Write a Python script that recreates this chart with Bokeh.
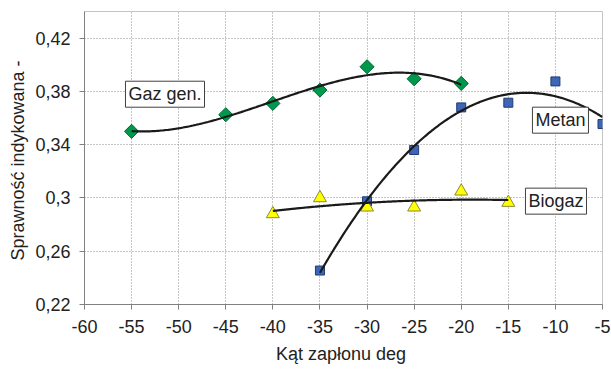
import numpy as np
from bokeh.plotting import figure
from bokeh.models import Label, FixedTicker
from bokeh.embed import file_html
from bokeh.resources import INLINE

# ---- data ----
gaz_x = [-55, -45, -40, -35, -30, -25, -20]
gaz_y = [0.350, 0.3625, 0.371, 0.381, 0.3985, 0.3895, 0.386]

metan_x = [-35, -30, -25, -20, -15, -10, -5]
metan_y = [0.2455, 0.2975, 0.336, 0.368, 0.3715, 0.3875, 0.3555]

biogaz_x = [-40, -35, -30, -25, -20, -15]
biogaz_y = [0.288, 0.300, 0.293, 0.293, 0.305, 0.2965]

x_ticks = [-60, -55, -50, -45, -40, -35, -30, -25, -20, -15, -10, -5]
x_tick_labels = ["-60", "-55", "-50", "-45", "-40", "-35", "-30", "-25", "-20", "-15", "-10", "-5"]
y_ticks = [0.22, 0.26, 0.30, 0.34, 0.38, 0.42]
y_tick_labels = ["0,22", "0,26", "0,3", "0,34", "0,38", "0,42"]

series_names = ["Gaz gen.", "Metan", "Biogaz"]

FONT = "Liberation Sans"

p = figure(width=611, height=370, x_range=(-60, -5), y_range=(0.22, 0.44),
           output_backend="svg", toolbar_location=None,
           min_border_left=84, min_border_right=9, min_border_top=11, min_border_bottom=66)
p.background_fill_color = "white"
p.border_fill_color = "white"
p.outline_line_color = "#c4c4c4"

p.xaxis.ticker = FixedTicker(ticks=x_ticks)
p.yaxis.ticker = FixedTicker(ticks=y_ticks)
p.xaxis.major_label_overrides = {t: l for t, l in zip(x_ticks, x_tick_labels)}
p.yaxis.major_label_overrides = {t: l for t, l in zip(y_ticks, y_tick_labels)}

for ax in (p.xaxis[0], p.yaxis[0]):
    ax.axis_line_color = "#808080"
    ax.major_tick_line_color = "#808080"
    ax.major_tick_in = 0
    ax.major_tick_out = 5
    ax.minor_tick_line_color = None
    ax.major_label_text_font = FONT
    ax.major_label_text_font_size = "18px"
    ax.major_label_text_color = "#222222"
    ax.axis_label_text_font = FONT
    ax.axis_label_text_font_size = "18px"
    ax.axis_label_text_font_style = "normal"
    ax.axis_label_text_color = "#222222"

p.xaxis.axis_label = "Kąt zapłonu  deg"
p.yaxis.axis_label = "Sprawność indykowana  -"
p.xaxis.major_label_standoff = 10
p.xaxis.axis_label_standoff = 8
p.yaxis.major_label_standoff = 9
p.yaxis.axis_label_standoff = 4

p.xgrid.ticker = FixedTicker(ticks=x_ticks)
p.ygrid.ticker = FixedTicker(ticks=y_ticks)
for g in (p.xgrid[0], p.ygrid[0]):
    g.grid_line_color = "#8c8c8c"
    g.grid_line_dash = "1 2"
    g.grid_line_width = 1

# markers
p.scatter(gaz_x, gaz_y, marker="square", angle=np.pi / 4, size=10,
          fill_color="#00994c", line_color="#006633", line_width=1)
p.scatter(metan_x, metan_y, marker="square", size=9,
          fill_color="#3d66b8", line_color="#1f3c70", line_width=1)
p.scatter(biogaz_x, biogaz_y, marker="triangle", size=13,
          fill_color="#ffff00", line_color="#8a8a3a", line_width=1)

# polynomial trend lines (fitted to the data)
def trend(xs, ys, deg):
    c = np.polyfit(xs, ys, deg)
    xx = np.linspace(min(xs), max(xs), 200)
    return xx, np.polyval(c, xx)

for xs, ys, deg in ((gaz_x, gaz_y, 3), (metan_x, metan_y, 2), (biogaz_x, biogaz_y, 2)):
    xx, yy = trend(xs, ys, deg)
    p.line(xx, yy, line_color="#1a1a1a", line_width=2.2)

label_pos = [(-55.65, 0.3779), (-12.44, 0.3584), (-13.18, 0.2976)]
for name, (lx, ly) in zip(series_names, label_pos):
    p.add_layout(Label(x=lx, y=ly, text=name, text_align="left", text_baseline="middle",
                       text_font=FONT, text_font_size="18px", text_color="#222222",
                       border_line_color="#404040", border_line_width=1,
                       background_fill_color="white", padding=3))

open("out.html", "w").write(file_html(p, INLINE))
